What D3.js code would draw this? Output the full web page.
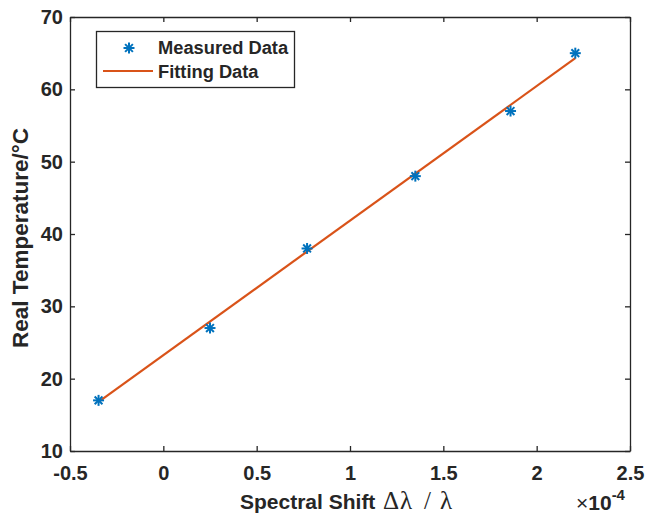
<!DOCTYPE html>
<html>
<head>
<meta charset="utf-8">
<script src="https://cdn.jsdelivr.net/npm/d3@7"></script>
<style>
  body { margin: 0; background: #fff; }
  text { font-family: "Liberation Sans", Arial, sans-serif; font-weight: bold; fill: #262626; }
</style>
</head>
<body>
<svg id="chart"></svg>
<script>
// datos medidos
const shift = [-0.347, 0.25, 0.77, 1.35, 1.86, 2.207];
const temp = [17, 27, 38, 48, 57, 65];
// recta de ajuste (extremos)
const fitX = [-0.347, 2.207];
const fitY = [16.8, 64.3];

const xTicks = [-0.5, 0, 0.5, 1, 1.5, 2, 2.5];
const yTicks = [10, 20, 30, 40, 50, 60, 70];

const width = 646, height = 515;
const margin = { top: 17, right: 16, bottom: 64, left: 70 };

const blue = '#0072BD', orange = '#D95319', ink = '#262626';

const svg = d3.select('#chart').attr('width', width).attr('height', height);

const x = d3.scaleLinear().domain([-0.5, 2.5]).range([margin.left, width - margin.right]);
const y = d3.scaleLinear().domain([10, 70]).range([height - margin.bottom, margin.top]);

// ejes con marcas hacia dentro (guion normal como en MATLAB)
const fmt = d => String(d);
svg.append('g')
    .attr('transform', `translate(0,${y(10)})`)
    .call(d3.axisBottom(x).tickValues(xTicks).tickSizeInner(-5).tickSizeOuter(0).tickPadding(15).tickFormat(fmt))
    .call(g => g.selectAll('text').style('font-size', '20px'));
svg.append('g')
    .attr('transform', `translate(0,${y(70)})`)
    .call(d3.axisTop(x).tickValues(xTicks).tickSizeInner(-5).tickSizeOuter(0).tickFormat(''));
svg.append('g')
    .attr('transform', `translate(${x(-0.5)},0)`)
    .call(d3.axisLeft(y).tickValues(yTicks).tickSizeInner(-5).tickSizeOuter(0).tickPadding(7).tickFormat(fmt))
    .call(g => g.selectAll('text').style('font-size', '20px'));
svg.append('g')
    .attr('transform', `translate(${x(2.5)},0)`)
    .call(d3.axisRight(y).tickValues(yTicks).tickSizeInner(-5).tickSizeOuter(0).tickFormat(''));

svg.selectAll('.domain, .tick line').attr('stroke', ink).attr('stroke-width', 1.3);
svg.selectAll('.tick text').attr('fill', ink).attr('font-family', null).attr('font-size', null);

// recta de ajuste
const line = d3.line().x(d => x(d[0])).y(d => y(d[1]));
svg.append('path')
    .datum(d3.zip(fitX, fitY))
    .attr('d', line)
    .attr('fill', 'none')
    .attr('stroke', orange)
    .attr('stroke-width', 2.2);

// marcador asterisco tipo MATLAB
function star(g, cx, cy, r) {
  [0, 45, 90, 135].forEach(a => {
    const t = a * Math.PI / 180;
    g.append('line')
        .attr('x1', cx - r * Math.cos(t)).attr('y1', cy - r * Math.sin(t))
        .attr('x2', cx + r * Math.cos(t)).attr('y2', cy + r * Math.sin(t))
        .attr('stroke', blue).attr('stroke-width', 2);
  });
}
const pts = svg.append('g');
shift.forEach((s, i) => star(pts, x(s), y(temp[i]), 5.5));

// leyenda
const leg = svg.append('g');
leg.append('rect')
    .attr('x', 96.5).attr('y', 31.5).attr('width', 198).attr('height', 56)
    .attr('fill', '#fff').attr('stroke', ink).attr('stroke-width', 1.3);
star(leg, 129, 48, 5.5);
leg.append('line').attr('x1', 103).attr('x2', 153).attr('y1', 71).attr('y2', 71)
    .attr('stroke', orange).attr('stroke-width', 2.2);
leg.append('text').attr('x', 158).attr('y', 54).style('font-size', '18.3px').text('Measured Data');
leg.append('text').attr('x', 158).attr('y', 78).style('font-size', '18.3px').text('Fitting Data');

// títulos de ejes
const xl = svg.append('text')
    .attr('x', 240).attr('y', 509).style('font-size', '21px');
xl.append('tspan').text('Spectral Shift');
const sym = s => xl.append('tspan')
    .style('font-family', '"Liberation Serif", serif').style('font-weight', 'normal')
    .style('font-size', '25px').text(s);
sym('\u0394').attr('x', 383);
sym('\u03BB').attr('x', 400);
sym('/').attr('x', 424);
sym('\u03BB').attr('x', 440);

svg.append('text')
    .attr('transform', `translate(28,${(y(10) + y(70)) / 2 + 4}) rotate(-90)`)
    .attr('text-anchor', 'middle').style('font-size', '22.5px')
    .text('Real Temperature/\u00B0C');

const mult = svg.append('text').attr('x', 576).attr('y', 510).style('font-size', '21px');
mult.append('tspan').style('font-weight', 'normal').text('\u00D7');
mult.append('tspan').text('10');
mult.append('tspan').attr('dy', -10).style('font-size', '15px').text('-4');
</script>
</body>
</html>
